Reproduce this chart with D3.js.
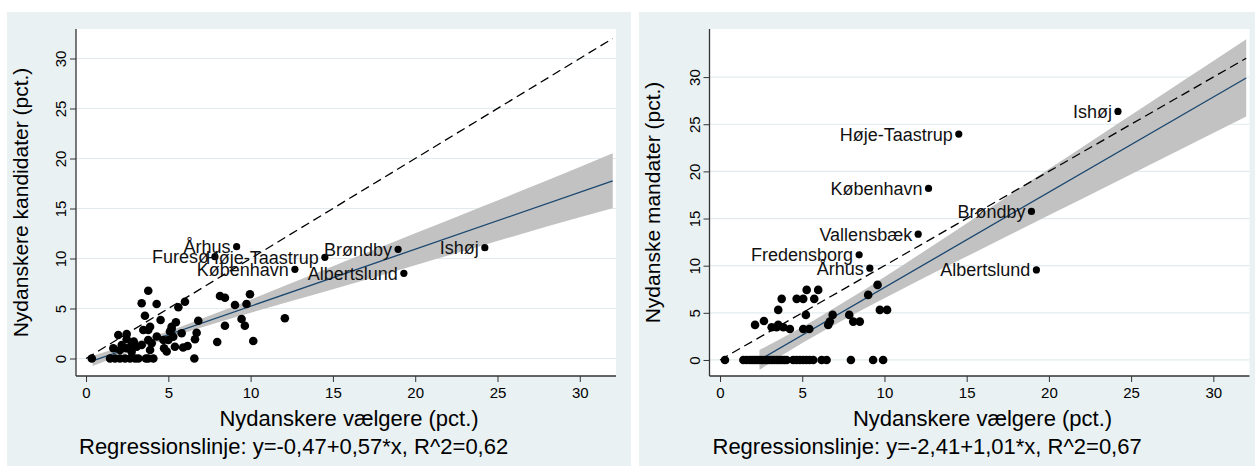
<!DOCTYPE html>
<html><head><meta charset="utf-8">
<script src="https://cdn.jsdelivr.net/npm/d3@7/dist/d3.min.js"></script>
<style>
html,body{margin:0;padding:0;background:#fff;}
svg{display:block;font-family:"Liberation Sans",Arial,sans-serif;}
</style></head>
<body>
<svg id="chart" width="1255" height="466"></svg>
<script>
// ---------- DATA ----------
const xTicks = [0, 5, 10, 15, 20, 25, 30];
const yTicks = [0, 5, 10, 15, 20, 25, 30];

// Left panel: Nydanskere kandidater
const leftX = [0.35,1.46,1.76,2.06,2.37,2.67,2.98,3.18,3.64,3.78,4.09,
  1.66,2.06,2.77,1.96,2.47,2.47,2.17,2.47,2.77,3.08,3.38,3.99,3.78,3.89,3.48,3.78,3.89,
  3.78,3.38,4.29,3.58,6.01,5.61,4.53,5.46,6.82,
  8.14,8.44,9.05,9.75,9.96,9.45,9.65,8.44,7.97,10.16,12.08,
  6.58,6.72,6.62,6.17,5.81,5.2,5.3,5.0,5.4,4.74,4.7,5.2,5.1,2.9,4.3,4.9,5.9];
const leftY = [0,0,0,0,0,0,0,0,0,0,0,
  1.02,0.85,0.68,2.35,2.45,1.92,1.35,1.02,1.35,1.18,1.35,1.52,1.85,0.85,2.85,2.85,3.18,
  6.78,5.52,5.45,4.28,5.68,5.12,3.85,3.62,3.78,
  6.25,6.08,5.35,5.45,6.42,3.95,3.28,3.28,1.65,1.75,4.02,
  0,2.58,1.92,1.25,2.52,2.95,2.18,1.85,1.18,1.02,1.85,3.18,2.7,1.7,2.2,0.7,1.1];
const leftNames = ["Århus","Furesø","Høje-Taastrup","København","Brøndby","Albertslund","Ishøj"];
const leftNamedX = [9.15,7.83,14.51,12.69,18.96,19.31,24.23];
const leftNamedY = [11.18,10.18,10.12,8.92,10.92,8.52,11.08];
const leftIntercept = -0.47, leftSlope = 0.57;
const leftFitRange = [0.4, 32];
const leftBandX = [0.4, 3, 5, 8, 12, 16, 20, 24, 28, 32];
const leftBandLo = [-0.74, 0.84, 2.03, 3.59, 5.52, 7.4, 9.33, 11.26, 13.19, 15.02];
const leftBandHi = [0.26, 1.64, 2.73, 4.59, 7.22, 9.9, 12.53, 15.16, 17.79, 20.52];

// Right panel: Nydanske mandater
const rightX = [0.3,1.42,1.6,1.8,1.95,2.1,2.25,2.4,2.55,2.7,2.85,3.0,3.15,3.3,3.45,3.6,3.75,3.9,4.05,
  4.45,4.65,4.85,5.05,5.25,5.45,5.67,6.18,6.48,7.96,9.31,9.92,
  2.13,2.67,3.14,3.44,3.54,3.75,3.54,3.85,4.25,4.66,5.06,5.27,5.73,5.97,5.22,5.06,5.43,
  6.58,6.68,6.85,7.86,8.1,8.5,9.01,9.58,9.72,10.16];
const rightY = [0,0,0,0,0,0,0,0,0,0,0,0,0,0,0,0,0,0,0,
  0,0,0,0,0,0,0,0,0,0,0,0,
  3.72,4.14,3.47,3.47,5.31,6.48,3.72,3.47,3.29,6.48,6.48,7.43,6.48,7.43,4.78,3.29,3.29,
  3.72,4.07,4.78,4.78,4.07,4.07,6.9,7.96,5.31,5.31];
const rightNames = ["Ishøj","Høje-Taastrup","København","Vallensbæk","Fredensborg","Århus","Brøndby","Albertslund"];
const rightNamedX = [24.2,14.52,12.68,12.05,8.46,9.11,18.94,19.24];
const rightNamedY = [26.36,23.96,18.19,13.34,11.15,9.73,15.75,9.55];
const rightIntercept = -2.41, rightSlope = 1.01;
const rightFitRange = [2.4, 32];
const rightBandX = [2.4, 5, 8, 12, 16, 20, 24, 28, 32];
const rightBandLo = [-1.04, 1.79, 4.72, 8.36, 11.85, 15.34, 18.83, 22.32, 25.81];
const rightBandHi = [1.06, 3.49, 6.62, 11.06, 15.65, 20.24, 24.83, 29.42, 34.01];
const diagRange = [0, 32];

const xTitle = "Nydanskere vælgere (pct.)";
const leftYTitle = "Nydanskere kandidater (pct.)";
const rightYTitle = "Nydanske mandater (pct.)";
const leftNote = "Regressionslinje: y=-0,47+0,57*x, R^2=0,62";
const rightNote = "Regressionslinje: y=-2,41+1,01*x, R^2=0,67";

// ---------- DRAW ----------
const svg = d3.select("#chart");
const BG = "#e9f1f3", GRID = "#e1ebee", NAVY = "#1a476f", BAND = "#c2c2c2";

function panel(o) {
  const g = svg.append("g");
  g.append("rect").attr("x", o.bx0).attr("y", 12).attr("width", o.bx1 - o.bx0).attr("height", 454).attr("fill", BG);
  const x = d3.scaleLinear().domain(o.xDom).range([o.px0, o.px1]);
  const y = d3.scaleLinear().domain(o.yDom).range([376, 29]);
  g.append("rect").attr("x", o.px0).attr("y", 29).attr("width", o.px1 - o.px0).attr("height", 347).attr("fill", "#fff");
  // grid
  g.selectAll(".grid").data(yTicks).enter().append("line")
    .attr("x1", o.px0).attr("x2", o.px1).attr("y1", d => y(d)).attr("y2", d => y(d))
    .attr("stroke", GRID).attr("stroke-width", 1.2);
  // band
  const bandData = o.bandX.map((v, i) => ({x: v, lo: o.bandLo[i], hi: o.bandHi[i]}));
  g.append("path").datum(bandData)
    .attr("d", d3.area().x(d => x(d.x)).y0(d => y(d.lo)).y1(d => y(d.hi)).curve(d3.curveMonotoneX))
    .attr("fill", BAND);
  // fit line
  g.append("path").datum(o.fitRange)
    .attr("d", d3.line().x(d => x(d)).y(d => y(o.a + o.b * d)))
    .attr("stroke", NAVY).attr("stroke-width", 1.3).attr("fill", "none");
  // diagonal
  g.append("path").datum(diagRange)
    .attr("d", d3.line().x(d => x(d)).y(d => y(d)))
    .attr("stroke", "#000").attr("stroke-width", 1.3).attr("stroke-dasharray", "9,5").attr("fill", "none");
  // points
  g.selectAll(".pt").data(o.px.map((v, i) => [v, o.py[i]])).enter().append("circle")
    .attr("cx", d => x(d[0])).attr("cy", d => y(d[1])).attr("r", 4.3).attr("fill", "#000");
  const named = o.names.map((n, i) => ({n, x: o.nx[i], y: o.ny[i]}));
  g.selectAll(".npt").data(named).enter().append("circle")
    .attr("cx", d => x(d.x)).attr("cy", d => y(d.y)).attr("r", 3.6).attr("fill", "#000");
  g.selectAll(".lbl").data(named).enter().append("text")
    .attr("x", d => x(d.x) - 6).attr("y", d => y(d.y) + 6.5)
    .attr("text-anchor", "end").attr("font-size", 18).attr("fill", "#111").text(d => d.n);
  // axes
  const xa = g.append("g").attr("transform", "translate(0,376)")
    .call(d3.axisBottom(x).tickValues(xTicks).tickSize(6).tickPadding(5));
  xa.select(".domain").remove();
  xa.append("line").attr("x1", o.px0).attr("x2", o.px1).attr("stroke", "#333").attr("stroke-width", 1.3);
  xa.selectAll("text").attr("font-size", 15).attr("fill", "#000").attr("font-family", "Liberation Sans");
  xa.selectAll(".tick line").attr("stroke", "#333");
  const ya = g.append("g").attr("transform", `translate(${o.px0},0)`)
    .call(d3.axisLeft(y).tickValues(yTicks).tickSize(6).tickPadding(3));
  ya.select(".domain").remove();
  ya.append("line").attr("y1", 29).attr("y2", 376).attr("stroke", "#333").attr("stroke-width", 1.3);
  ya.selectAll(".tick line").attr("stroke", "#333");
  ya.selectAll("text")
    .attr("font-size", 15).attr("fill", "#000").attr("font-family", "Liberation Sans")
    .attr("x", null).attr("dy", null)
    .attr("text-anchor", "middle")
    .attr("transform", "translate(-10,0) rotate(-90)");
  // titles
  g.append("text").attr("x", (o.px0 + o.px1) / 2 + 3).attr("y", 426).attr("text-anchor", "middle")
    .attr("font-size", 22).attr("fill", "#000").text(xTitle);
  g.append("text").attr("transform", `translate(${o.bx0 + 21},${(29 + 376) / 2}) rotate(-90)`)
    .attr("text-anchor", "middle").attr("font-size", 21).attr("fill", "#000").text(o.yTitle);
  g.append("text").attr("x", o.px0 + 3).attr("y", 454).attr("font-size", 22).attr("fill", "#000").text(o.note);
}

panel({bx0: 7, bx1: 631, px0: 76, px1: 616, xDom: [-0.61, 32.2], yDom: [-1.75, 32.95],
  bandX: leftBandX, bandLo: leftBandLo, bandHi: leftBandHi, a: leftIntercept, b: leftSlope, fitRange: leftFitRange,
  px: leftX, py: leftY, names: leftNames, nx: leftNamedX, ny: leftNamedY, yTitle: leftYTitle, note: leftNote});
panel({bx0: 639, bx1: 1264, px0: 709.5, px1: 1249.5, xDom: [-0.64, 32.2], yDom: [-1.7, 35.1],
  bandX: rightBandX, bandLo: rightBandLo, bandHi: rightBandHi, a: rightIntercept, b: rightSlope, fitRange: rightFitRange,
  px: rightX, py: rightY, names: rightNames, nx: rightNamedX, ny: rightNamedY, yTitle: rightYTitle, note: rightNote});
</script>
</body></html>
